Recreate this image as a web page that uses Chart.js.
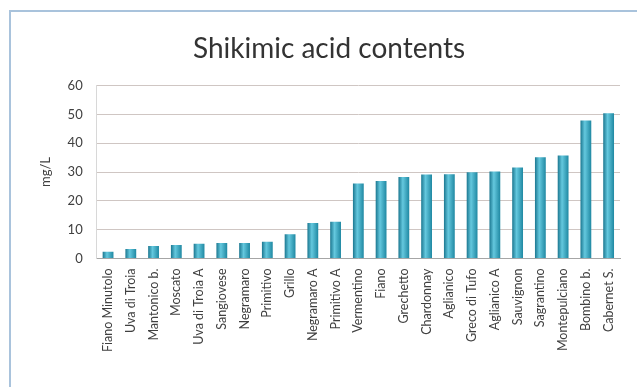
<!DOCTYPE html>
<html>
<head>
<meta charset="utf-8">
<script src="https://cdn.jsdelivr.net/npm/chart.js@4/dist/chart.umd.min.js"></script>
<style>
  html, body { margin: 0; padding: 0; background: #fff; }
  #wrap { position: relative; width: 637px; height: 387px; }
  #frame { position: absolute; left: 9px; top: 10px; width: 640px; height: 400px;
           border: 2px solid #a9c3dc; box-sizing: border-box; }
  canvas { position: absolute; left: 0; top: 0; }
</style>
</head>
<body>
<div id="wrap">
  <div id="frame"></div>
  <canvas id="c" width="637" height="387"></canvas>
</div>
<script>
// cultivars, ordered as in the figure
var cultivars = ['Fiano Minutolo', 'Uva di Troia', 'Mantonico b.', 'Moscato', 'Uva di Troia A',
  'Sangiovese', 'Negramaro', 'Primitivo', 'Grillo', 'Negramaro A', 'Primitivo A', 'Vermentino',
  'Fiano', 'Grechetto', 'Chardonnay', 'Aglianico', 'Greco di Tufo', 'Aglianico A', 'Sauvignon',
  'Sagrantino', 'Montepulciano', 'Bombino b.', 'Cabernet S.'];
// shikimic acid, mg/L
var shikimic = [2.3, 3.3, 4.3, 4.7, 5.1, 5.4, 5.4, 5.8, 8.4, 12.3, 12.7, 26.0,
  26.9, 28.3, 29.1, 29.2, 29.9, 30.2, 31.6, 35.1, 35.7, 47.9, 50.4];
var yTicks = [0, 10, 20, 30, 40, 50, 60];

var CAT_PCT = 0.95, BAR_PCT = 0.5;

// cylinder-ish shading across each bar, placed from the x scale
function barFill(ctx) {
  var xs = ctx.chart.scales && ctx.chart.scales.x;
  if (ctx.dataIndex === undefined || !xs || !isFinite(xs.width) || xs.width <= 0) return '#3aa6c0';
  var cx = xs.getPixelForValue(ctx.dataIndex);
  var w = xs.width / cultivars.length * CAT_PCT * BAR_PCT;
  var g = ctx.chart.ctx.createLinearGradient(cx - w / 2, 0, cx + w / 2, 0);
  g.addColorStop(0, '#1b7790');
  g.addColorStop(0.4, '#64c8de');
  g.addColorStop(1, '#1f88a2');
  return g;
}

new Chart(document.getElementById('c'), {
  type: 'bar',
  data: {
    labels: cultivars,
    datasets: [{
      label: 'Shikimic acid',
      data: shikimic,
      backgroundColor: barFill,
      borderWidth: 0,
      barPercentage: BAR_PCT,
      categoryPercentage: CAT_PCT
    }]
  },
  options: {
    responsive: false,
    animation: false,
    layout: { padding: { left: 38, right: 17, top: 22, bottom: 33 } },
    plugins: {
      legend: { display: false },
      tooltip: { enabled: false },
      title: {
        display: true,
        text: 'Shikimic acid contents',
        color: '#333',
        font: { family: 'Lato', size: 28, weight: 'normal' },
        padding: { top: 10, bottom: 20 }
      }
    },
    scales: {
      x: {
        grid: { display: false },
        border: { color: '#a6a6a6' },
        ticks: {
          color: '#404040',
          font: { family: 'Lato', size: 12.5 },
          minRotation: 90, maxRotation: 90,
          autoSkip: false, padding: 2
        }
      },
      y: {
        min: 0, max: 60,
        afterBuildTicks: function (axis) { axis.ticks = yTicks.map(function (v) { return { value: v }; }); },
        grid: { color: '#cfc6c3', drawTicks: false },
        border: { display: true, color: '#d8d8d8' },
        ticks: { color: '#404040', font: { family: 'Lato', size: 13 }, padding: 14 },
        title: { display: true, text: 'mg/L', color: '#404040', font: { family: 'Lato', size: 13 }, padding: 0 }
      }
    }
  }
});
</script>
</body>
</html>
